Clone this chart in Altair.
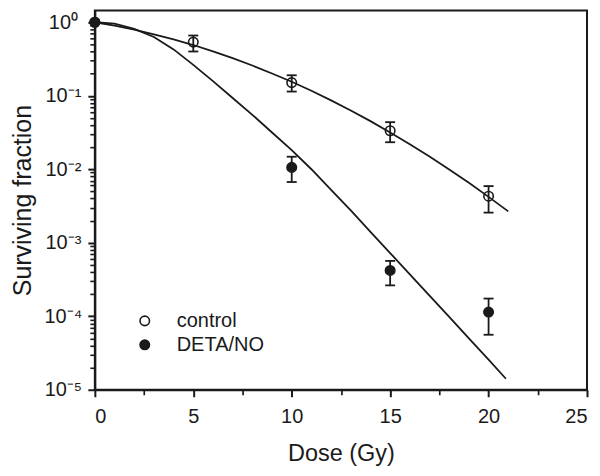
import altair as alt
import pandas as pd

# ---------------- data ----------------
series = ["control", "DETA/NO"]

# fitted curves
curve_dose_control = [0, 1, 2, 3, 4, 5, 6, 7, 8, 9, 10, 11, 12, 13, 14, 15, 16, 17, 18, 19, 20, 21]
curve_sf_control = [1.0, 0.897, 0.794, 0.686, 0.583, 0.490, 0.402, 0.325, 0.258, 0.201, 0.155,
                    0.117, 0.0865, 0.0631, 0.0451, 0.0317, 0.0219, 0.0149, 0.00995, 0.00653,
                    0.00421, 0.00267]
curve_dose_deta = [0, 1, 2, 3, 4, 5, 6, 7, 8, 9, 10, 11, 12, 13, 14, 15, 16, 17, 18, 19, 20, 20.88]
curve_sf_deta = [1.0, 0.955, 0.813, 0.631, 0.427, 0.263, 0.158, 0.0933, 0.055, 0.0316, 0.0182,
                 0.0100, 0.00525, 0.00275, 0.00141, 7.24e-4, 3.72e-4, 1.91e-4, 9.77e-5, 5.01e-5,
                 2.57e-5, 1.41e-5]

# measured points
pt_dose_control = [0, 5, 10, 15, 20]
pt_sf_control = [1.0, 0.537, 0.151, 0.0334, 0.0043]
pt_dose_deta = [0, 10, 15, 20]
pt_sf_deta = [1.0, 0.0106, 4.2e-4, 1.14e-4]

# error bars
err_dose_control = [5, 10, 15, 20]
err_lo_control = [0.40, 0.114, 0.0233, 0.00257]
err_hi_control = [0.66, 0.19, 0.0437, 0.0059]
err_dose_deta = [10, 15, 20]
err_lo_deta = [0.0067, 2.63e-4, 5.6e-5]
err_hi_deta = [0.0148, 5.66e-4, 1.74e-4]

# axes
x_ticks = [0, 5, 10, 15, 20, 25]
x_minor = [2.5, 7.5, 12.5, 17.5, 22.5]
y_ticks = [1e-5, 1e-4, 1e-3, 1e-2, 1e-1, 1]
y_minor_mult = [2, 3, 4, 5, 6, 7, 8, 9]
y_minor_decades = [1e-5, 1e-4, 1e-3, 1e-2, 1e-1]

# ---------------- tables ----------------
curves_df = pd.concat([
    pd.DataFrame({"series": series[0], "dose": curve_dose_control, "sf": curve_sf_control}),
    pd.DataFrame({"series": series[1], "dose": curve_dose_deta, "sf": curve_sf_deta}),
])
pts_df = pd.concat([
    pd.DataFrame({"series": series[0], "dose": pt_dose_control, "sf": pt_sf_control}),
    pd.DataFrame({"series": series[1], "dose": pt_dose_deta, "sf": pt_sf_deta}),
])
err_df = pd.concat([
    pd.DataFrame({"series": series[0], "dose": err_dose_control, "lo": err_lo_control, "hi": err_hi_control}),
    pd.DataFrame({"series": series[1], "dose": err_dose_deta, "lo": err_lo_deta, "hi": err_hi_deta}),
])
y_minor_vals = [m * d for d in y_minor_decades for m in y_minor_mult]
ymin_df = pd.DataFrame({"sf": y_minor_vals})
xmin_df = pd.DataFrame({"dose": x_minor})

# ---------------- styling ----------------
W, H = 493, 380
INK = "#1a1a1a"
FONT = "Liberation Sans"

common = dict(domainColor=INK, domainWidth=2, tickColor=INK, tickWidth=2,
              labelColor=INK, titleColor=INK, labelFont=FONT, titleFont=FONT,
              titleFontWeight="normal", grid=False)

x_axis = alt.Axis(orient="bottom", values=x_ticks, title="Dose (Gy)",
                  labelFontSize=20, titleFontSize=23.5,
                  labelPadding=10, titlePadding=15, tickSize=7, **common)
y_label = ("datum.value >= 0.5 ? '10⁰' : datum.value >= 0.05 ? '10⁻¹' : "
           "datum.value >= 0.005 ? '10⁻²' : datum.value >= 0.0005 ? '10⁻³' : "
           "datum.value >= 0.00005 ? '10⁻⁴' : '10⁻⁵'")
y_axis = alt.Axis(orient="left", values=y_ticks, labelExpr=y_label, title="Surviving fraction",
                  labelFontSize=20, labelAlign="center", labelBaseline="middle",
                  labelPadding=25, titleFontSize=25, tickSize=7,
                  titleX=-64, titleBaseline="alphabetic", **common)
x_minor_axis = alt.Axis(orient="bottom", values=x_minor, labels=False, domain=False, grid=False,
                        tickSize=5, tickWidth=1.7, tickColor=INK, tickOpacity=1)
y_minor_axis = alt.Axis(orient="left", values=y_minor_vals, labels=False, domain=False, grid=False,
                        tickSize=5, tickWidth=1.6, tickColor=INK, tickOpacity=1)

xs = alt.Scale(domain=[0, 25], nice=False, zero=False)
ys = alt.Scale(type="log", domain=[1e-5, 1.45], nice=False)

Xn = alt.X("dose:Q", scale=xs, axis=None)
Yn = alt.Y("sf:Q", scale=ys, axis=None)

# layers carrying the minor ticks (invisible marks)
minor_y = alt.Chart(ymin_df).mark_point(opacity=0).encode(
    y=alt.Y("sf:Q", scale=ys, axis=y_minor_axis, title=""))
minor_x = alt.Chart(xmin_df).mark_point(opacity=0).encode(
    x=alt.X("dose:Q", scale=xs, axis=x_minor_axis, title=""))

curves = alt.Chart(curves_df).mark_line(color=INK, strokeWidth=1.8).encode(
    x=alt.X("dose:Q", scale=xs, axis=x_axis),
    y=alt.Y("sf:Q", scale=ys, axis=y_axis),
    detail="series:N", order="dose:Q")

err_rules = alt.Chart(err_df).mark_rule(color=INK, strokeWidth=1.8).encode(
    x=Xn, y=alt.Y("lo:Q", scale=ys, axis=None), y2="hi:Q")

caps = alt.Chart(err_df).transform_fold(["lo", "hi"], as_=["end", "sf"]).mark_point(
    shape="M-1,0L1,0", size=100, stroke=INK, strokeWidth=1.8, filled=False, opacity=1).encode(
    x=Xn, y=Yn)

points = alt.Chart(pts_df).mark_point(
    shape="circle", size=90, filled=True, stroke=INK, strokeWidth=1.6, opacity=1).encode(
    x=Xn, y=Yn,
    fill=alt.Fill("series:N",
                  scale=alt.Scale(domain=series, range=["rgba(255,255,255,0)", INK]),
                  legend=alt.Legend(orient="none", legendX=40, legendY=301, title=None,
                                    labelFontSize=20, labelFont=FONT, labelColor=INK,
                                    symbolType="circle", symbolSize=90,
                                    symbolStrokeColor=INK, symbolStrokeWidth=1.6,
                                    labelOffset=22, rowPadding=4, padding=0)))

chart = alt.layer(minor_y, minor_x, curves, err_rules, caps, points).resolve_axis(
    x="independent", y="independent"
).properties(
    width=W, height=H,
    autosize=alt.AutoSizeParams(type="none"),
    padding={"left": 87, "top": 2, "right": 5, "bottom": 76},
    view=alt.ViewBackground(stroke=INK, strokeWidth=2, fill="white"),
    background="white",
)

chart.save("out.html", embed_options={"renderer": "svg", "actions": False})
